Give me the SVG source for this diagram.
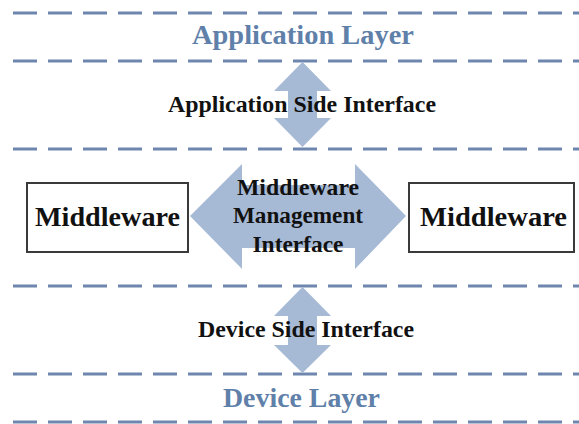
<svg xmlns="http://www.w3.org/2000/svg" width="579" height="424" viewBox="0 0 579 424">
  <style>
    .sep { stroke: #6f86ae; stroke-width: 3; stroke-dasharray: 24 11; fill: none; }
    .arrow { fill: #a6b9d5; stroke: none; }
    .box { fill: #ffffff; stroke: #3a3a3a; stroke-width: 2; }
    text { font-family: 'Liberation Serif', 'DejaVu Serif', serif; font-weight: 700; text-anchor: middle; }
    .layer { font-size: 28px; fill: #5f80a9; }
    .label { font-size: 24px; fill: #111111; }
    .node { font-size: 28px; fill: #111111; }
  </style>
  <rect width="579" height="424" fill="#ffffff"/>

  <!-- layer separators -->
  <g id="separators">
    <line class="sep" x1="13" y1="13" x2="579" y2="13"/>
    <line class="sep" x1="13" y1="61" x2="579" y2="61"/>
    <line class="sep" x1="13" y1="149" x2="579" y2="149"/>
    <line class="sep" x1="13" y1="286" x2="579" y2="286"/>
    <line class="sep" x1="13" y1="374" x2="579" y2="374"/>
    <line class="sep" x1="13" y1="422" x2="579" y2="422"/>
  </g>

  <!-- interface connectors -->
  <g id="connectors">
    <polygon id="app-side-arrow" class="arrow" points="302.5,62 331,91 317,91 317,118 331,118 302.5,147 274,118 288,118 288,91 274,91"/>
    <polygon id="mgmt-arrow" class="arrow" points="190,216 242,164 242,185 355,185 355,164 406,216 355,269 355,248 242,248 242,269"/>
    <polygon id="dev-side-arrow" class="arrow" points="302.5,287 331,316 317,316 317,345 331,345 302.5,373 274,345 288,345 288,316 274,316"/>
  </g>

  <g id="application-layer">
    <text class="layer" x="303" y="44" textLength="222" lengthAdjust="spacingAndGlyphs">Application Layer</text>
  </g>

  <g id="application-side-interface">
    <text class="label" x="302" y="112" textLength="268" lengthAdjust="spacingAndGlyphs">Application Side Interface</text>
  </g>

  <g id="middleware-left">
    <rect class="box" x="27" y="183" width="161" height="69"/>
    <text class="node" x="107.5" y="226" textLength="145" lengthAdjust="spacingAndGlyphs">Middleware</text>
  </g>

  <g id="middleware-management-interface">
    <text class="label" x="298" y="195" textLength="122" lengthAdjust="spacingAndGlyphs">Middleware</text>
    <text class="label" x="298" y="223" textLength="130" lengthAdjust="spacingAndGlyphs">Management</text>
    <text class="label" x="298" y="252" textLength="91" lengthAdjust="spacingAndGlyphs">Interface</text>
  </g>

  <g id="middleware-right">
    <rect class="box" x="409" y="183" width="165" height="69"/>
    <text class="node" x="493.5" y="226" textLength="147" lengthAdjust="spacingAndGlyphs">Middleware</text>
  </g>

  <g id="device-side-interface">
    <text class="label" x="306" y="337" textLength="216" lengthAdjust="spacingAndGlyphs">Device Side Interface</text>
  </g>

  <g id="device-layer">
    <text class="layer" x="301.5" y="407" textLength="157" lengthAdjust="spacingAndGlyphs">Device Layer</text>
  </g>
</svg>
